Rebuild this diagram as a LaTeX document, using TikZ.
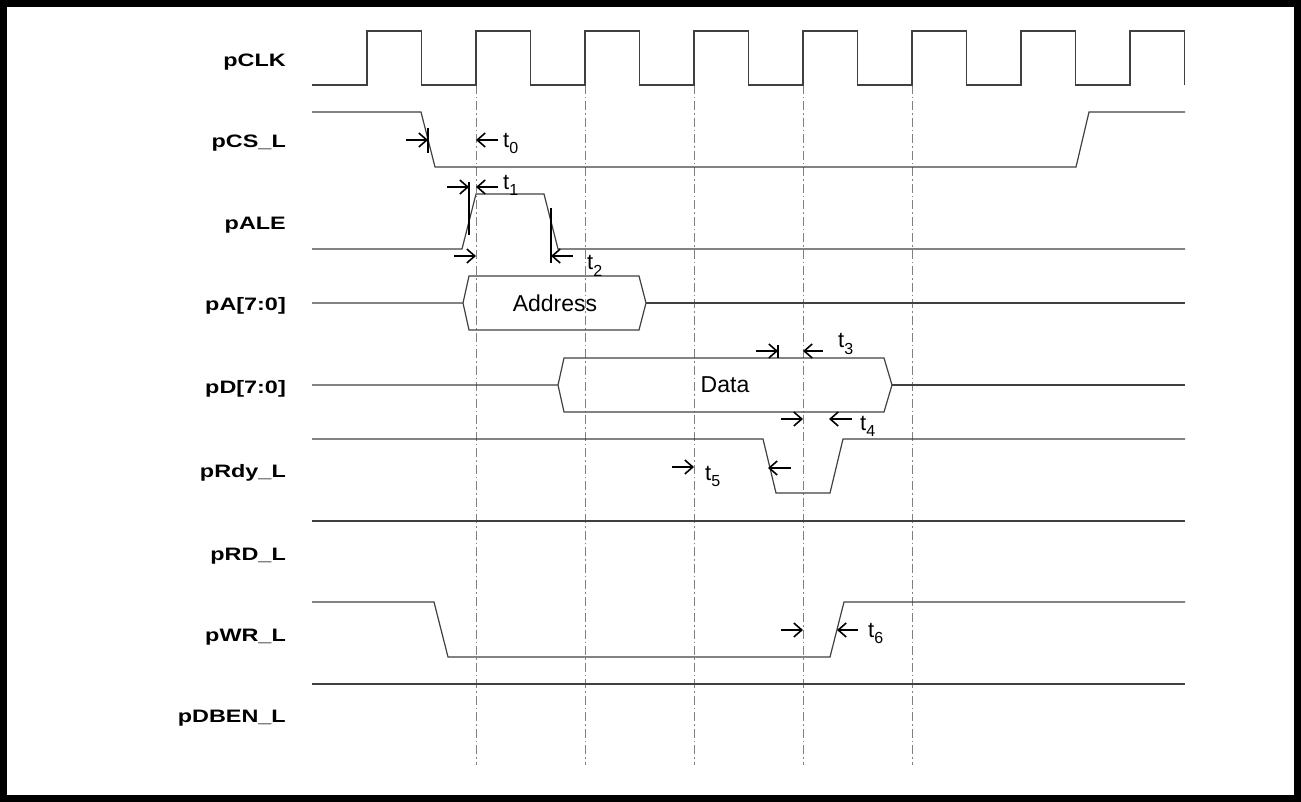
\documentclass[tikz,border=0pt]{standalone}
\usepackage{fontspec}
\setmainfont{Liberation Sans}
\usetikzlibrary{arrows.meta}
\newcommand{\tsub}[1]{t\raisebox{-6pt}{\fontsize{16}{16}\selectfont #1}}
\newcommand{\sname}[1]{\scalebox{1.3}[1]{#1}}

\begin{document}
\begin{tikzpicture}[x=1pt,y=-1pt,
        sig/.style={line width=1.2pt,black!75},
        gridline/.style={line width=1pt,gray,dash pattern=on 9pt off 3pt on 1.5pt off 3pt},
        tarrow/.style={line width=1.6pt,-{Straight Barb[length=8pt,width=14pt]}},
        tickmark/.style={line width=1.8pt},
        signame/.style={anchor=base east,inner sep=0pt,font=\fontsize{18}{18}\selectfont\bfseries},
        tname/.style={anchor=base west,inner sep=0pt,font=\fontsize{22}{22}\selectfont}]
            \useasboundingbox (0,0) rectangle (1301,802);
            \draw[line width=7pt] (3.5,3.5) rectangle (1297.5,798.5);

            \foreach \x in {476,585,...,912}
                \draw[gridline] (\x,85) -- (\x,765);

            \draw[sig] (312,85) \foreach \x in {367,476,...,1130} {-- (\x,85) -- (\x,31) -- ({\x+54.5},31) -- ({\x+54.5},85)};
            \draw[sig] (312,112) -- (421,112) -- (435,167) -- (1076,167) -- (1089,112) -- (1185,112);
            \draw[sig] (312,249) -- (462,249) -- (476,194) -- (544,194) -- (558,249) -- (1185,249);
            \draw[sig] (312,303) -- (463,303) -- (469,276) -- (639,276) -- (646,303) -- (639,330) -- (469,330) -- (463,303);
            \draw[sig] (646,303) -- (1185,303);
            \draw[sig] (312,385) -- (558,385) -- (564,358) -- (884,358) -- (892,385) -- (884,412) -- (564,412) -- (558,385);
            \draw[sig] (892,385) -- (1185,385);
            \draw[sig] (312,439) -- (763,439) -- (776,493) -- (830,493) -- (843,439) -- (1185,439);
            \draw[sig] (312,521) -- (1185,521);
            \draw[sig] (312,602) -- (434,602) -- (448,657) -- (830,657) -- (844,602) -- (1185,602);
            \draw[sig] (312,684) -- (1185,684);

            \node[signame] (clk) at (286,67) {\sname{pCLK}};
            \node[signame] (cs) at (286,148) {\sname{pCS\_L}};
            \node[signame] (ale) at (286,230) {\sname{pALE}};
            \node[signame] (pa) at (286,311) {\sname{pA[7:0]}};
            \node[signame] (pd) at (286,393) {\sname{pD[7:0]}};
            \node[signame] (rdy) at (286,477) {\sname{pRdy\_L}};
            \node[signame] (rd) at (286,560) {\sname{pRD\_L}};
            \node[signame] (wr) at (286,641) {\sname{pWR\_L}};
            \node[signame] (dben) at (286,722) {\sname{pDBEN\_L}};

            \node[font=\fontsize{23}{23}\selectfont] (addr) at (555,303) {Address};
            \node[font=\fontsize{23}{23}\selectfont] (data) at (725,385) {Data};

            \draw[tarrow] (406,140) -- (428,140);
            \draw[tarrow] (498,140) -- (476,140);
            \draw[tickmark] (428,128) -- (428,153);
            \draw[tarrow] (447,187) -- (469,187);
            \draw[tarrow] (498,187) -- (476,187);
            \draw[tickmark] (469,182) -- (469,235);
            \draw[tarrow] (454,256) -- (476,256);
            \draw[tarrow] (573,256) -- (551,256);
            \draw[tickmark] (551,208) -- (551,263);
            \draw[tarrow] (756,351) -- (778,351);
            \draw[tarrow] (823,351) -- (803,351);
            \draw[tickmark] (778,345) -- (778,358);
            \draw[tarrow] (781,419) -- (803,419);
            \draw[tarrow] (852,419) -- (829,419);
            \draw[tarrow] (672,467) -- (694,467);
            \draw[tarrow] (791,468) -- (768,468);
            \draw[tarrow] (781,630) -- (803,630);
            \draw[tarrow] (858,630) -- (837,630);

            \node[tname] (t0) at (503,148) {\tsub{0}};
            \node[tname] (t1) at (503,190) {\tsub{1}};
            \node[tname] (t2) at (587,270) {\tsub{2}};
            \node[tname] (t3) at (838,348) {\tsub{3}};
            \node[tname] (t4) at (860,430) {\tsub{4}};
            \node[tname] (t5) at (705,480) {\tsub{5}};
            \node[tname] (t6) at (868,637) {\tsub{6}};
        \end{tikzpicture}
\end{document}
